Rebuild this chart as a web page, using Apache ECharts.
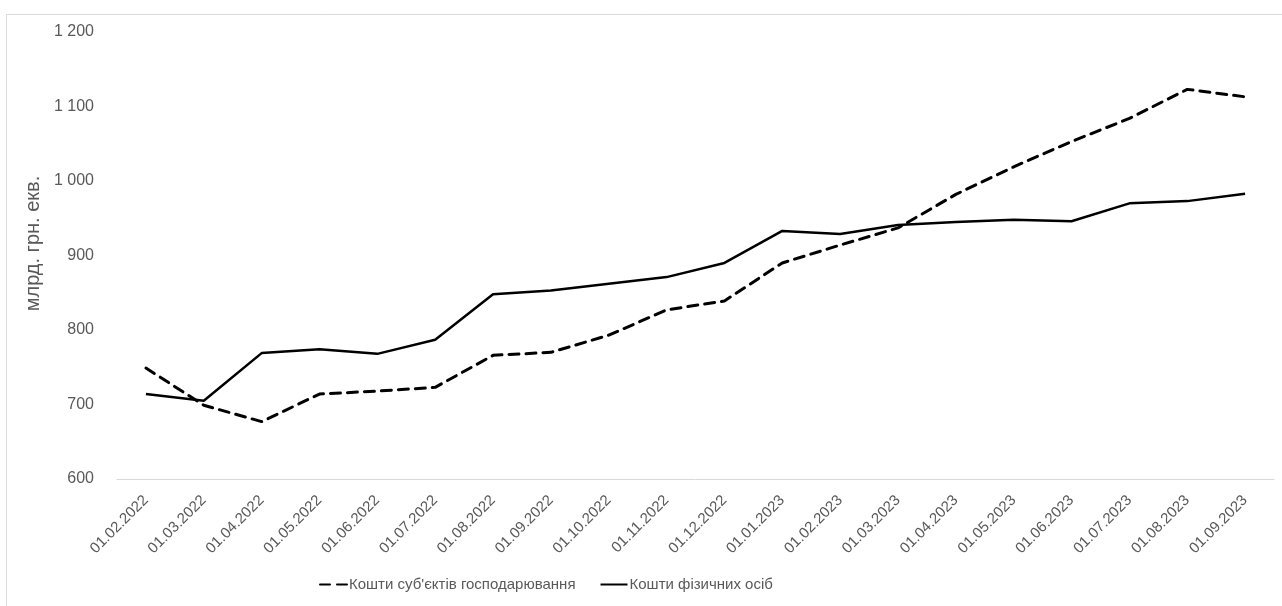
<!DOCTYPE html>
<html>
<head>
<meta charset="utf-8">
<style>
  html, body { margin: 0; padding: 0; background: #ffffff; }
  #chart { width: 1282px; height: 606px; }
</style>
<script src="https://cdn.jsdelivr.net/npm/echarts@6/dist/echarts.min.js"></script>
</head>
<body>
<div id="chart"></div>
<script>
// Monthly reporting dates
const dates = [
  '01.02.2022', '01.03.2022', '01.04.2022', '01.05.2022', '01.06.2022',
  '01.07.2022', '01.08.2022', '01.09.2022', '01.10.2022', '01.11.2022',
  '01.12.2022', '01.01.2023', '01.02.2023', '01.03.2023', '01.04.2023',
  '01.05.2023', '01.06.2023', '01.07.2023', '01.08.2023', '01.09.2023'
];

// Business entities' funds, bn UAH equivalent
const businessFunds = [
  749, 699, 677, 714, 718, 723, 766, 770, 793, 827,
  839, 890, 914, 937, 982, 1019, 1053, 1084, 1123, 1113
];

// Households' funds, bn UAH equivalent
const householdFunds = [
  714, 705, 769, 774, 768, 787, 848, 853, 862, 871,
  890, 933, 929, 941, 945, 948, 946, 970, 973, 983
];

const seriesNames = ["Кошти суб'єктів господарювання", 'Кошти фізичних осіб'];
const yAxisName = 'млрд. грн. екв.';

const fontFamily = '"Liberation Sans", Arial, sans-serif';
const textColor = '#595959';

const chart = echarts.init(document.getElementById('chart'), null, { renderer: 'canvas' });

chart.setOption({
  animation: false,
  backgroundColor: '#ffffff',
  graphic: [{
    type: 'polyline',
    shape: { points: [[6.5, 700], [6.5, 14.5], [1300, 14.5]] },
    style: { stroke: '#d9d9d9', lineWidth: 1, fill: null },
    silent: true
  }],
  grid: { left: 117, right: 8, top: 32, bottom: 127, containLabel: false },
  legend: {
    left: 314,
    top: 572,
    itemWidth: 27,
    itemHeight: 12,
    itemGap: 24,
    itemStyle: { opacity: 0 },
    textStyle: { color: textColor, fontFamily: fontFamily, fontSize: 15, padding: [0, 0, 0, -3] },
    data: seriesNames
  },
  xAxis: {
    type: 'category',
    data: dates,
    boundaryGap: true,
    axisLine: { show: true, lineStyle: { color: '#d9d9d9', width: 1 } },
    axisTick: { show: false },
    axisLabel: {
      rotate: 45,
      interval: 0,
      color: textColor,
      fontFamily: fontFamily,
      fontSize: 15,
      margin: 19
    },
    splitLine: { show: false }
  },
  yAxis: {
    type: 'value',
    min: 600,
    max: 1200,
    interval: 100,
    name: yAxisName,
    nameLocation: 'middle',
    nameGap: 70,
    nameRotate: 90,
    nameTextStyle: { color: textColor, fontFamily: fontFamily, fontSize: 20, padding: [0, 0, 0, 24] },
    axisLine: { show: false },
    axisTick: { show: false },
    splitLine: { show: false },
    axisLabel: {
      color: textColor,
      fontFamily: fontFamily,
      fontSize: 16,
      margin: 23,
      formatter: v => String(v).replace(/\B(?=(\d{3})+(?!\d))/g, ' ')
    }
  },
  series: [
    {
      name: seriesNames[0],
      type: 'line',
      data: businessFunds,
      symbol: 'none',
      lineStyle: { color: '#000000', width: 3, type: [10, 7], cap: 'round' },
      itemStyle: { color: '#000000' },
      z: 3
    },
    {
      name: seriesNames[1],
      type: 'line',
      data: householdFunds,
      symbol: 'none',
      lineStyle: { color: '#000000', width: 2.5, type: 'solid' },
      itemStyle: { color: '#000000' },
      z: 2
    }
  ]
});
</script>
</body>
</html>
